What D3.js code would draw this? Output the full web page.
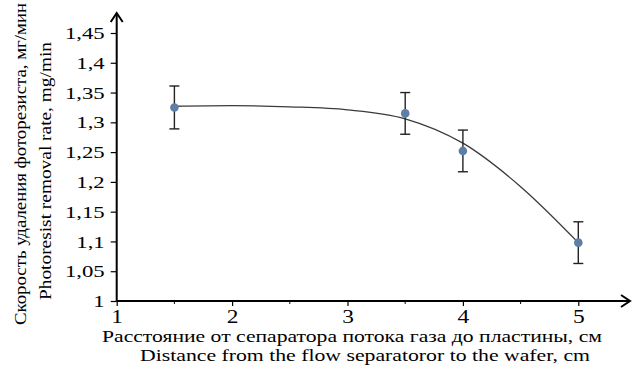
<!DOCTYPE html>
<html>
<head>
<meta charset="utf-8">
<script src="https://cdn.jsdelivr.net/npm/d3@7"></script>
<style>
  body { margin: 0; background: #fff; }
  svg { display: block; }
  svg text { font-family: "Liberation Serif", "Times New Roman", Times, serif; }
</style>
</head>
<body>
<div id="chart"></div>
<script>
// values
const xTicks = [1, 2, 3, 4, 5];
const xMinorTicks = [1.5, 2.5, 3.5, 4.5];
const yTicks = [1, 1.05, 1.1, 1.15, 1.2, 1.25, 1.3, 1.35, 1.4, 1.45];
const distance = [1.5, 3.5, 4, 5];
const rate = [1.325, 1.315, 1.252, 1.098];
const rateErr = [0.036, 0.035, 0.035, 0.035];
// trend line
const fitX = [1.5, 2, 2.5, 3, 3.5, 4, 4.5, 5];
const fitY = [1.327, 1.328, 1.326, 1.321, 1.306, 1.265, 1.192, 1.098];

const width = 632;
const height = 365;
const stretch = 1.3; // the source picture is widened horizontally

const locale = d3.formatLocale({decimal: ",", thousands: " ", grouping: [3], currency: ["", ""]});
const fmt = locale.format("~g");

const svg = d3.select("#chart")
  .append("svg")
  .attr("width", width)
  .attr("height", height);

const x = d3.scaleLinear()
  .domain([1, 5])
  .range([116.7, 578.3]);

const y = d3.scaleLinear()
  .domain([1, 1.45])
  .range([301, 33]);

const x0 = x(1), y0 = y(1);

// x axis
const gx = svg.append("g")
  .attr("transform", `translate(0,${y0})`)
  .call(d3.axisBottom(x).tickValues(xTicks).tickSize(5).tickPadding(4).tickFormat(fmt));
gx.select(".domain").remove();
gx.attr("font-size", 18).attr("font-family", null);
gx.selectAll(".tick line").attr("stroke", "#000").attr("stroke-width", 1.2);
gx.selectAll(".tick text")
  .attr("fill", "#000")
  .attr("y", 0)
  .attr("transform", `translate(0,9) scale(${stretch},1)`);

svg.append("g")
  .selectAll("line")
  .data(xMinorTicks)
  .join("line")
  .attr("x1", d => x(d)).attr("x2", d => x(d))
  .attr("y1", y0).attr("y2", y0 + 3)
  .attr("stroke", "#000");

// y axis
const gy = svg.append("g")
  .attr("transform", `translate(${x0},0)`)
  .call(d3.axisLeft(y).tickValues(yTicks).tickSize(6).tickPadding(5).tickFormat(fmt));
gy.select(".domain").remove();
gy.attr("font-size", 17.5).attr("font-family", null);
gy.selectAll(".tick line").attr("stroke", "#000").attr("stroke-width", 1.2);
gy.selectAll(".tick text")
  .attr("fill", "#000")
  .attr("x", 0)
  .attr("transform", `translate(-12,0) scale(${stretch},1)`);

// axis lines with open arrow heads
svg.append("line")
  .attr("x1", x0).attr("x2", 630)
  .attr("y1", y0).attr("y2", y0)
  .attr("stroke", "#000").attr("stroke-width", 2);
svg.append("path")
  .attr("d", `M${621},${y0 - 6}L${630},${y0}L${621},${y0 + 6}`)
  .attr("fill", "none").attr("stroke", "#000").attr("stroke-width", 2);

svg.append("line")
  .attr("x1", x0).attr("x2", x0)
  .attr("y1", y0).attr("y2", 13)
  .attr("stroke", "#000").attr("stroke-width", 2);
svg.append("path")
  .attr("d", `M${x0 - 6},${22}L${x0},${13}L${x0 + 6},${22}`)
  .attr("fill", "none").attr("stroke", "#000").attr("stroke-width", 2);

// trend line
const fit = fitX.map((d, i) => [d, fitY[i]]);
svg.append("path")
  .datum(fit)
  .attr("fill", "none")
  .attr("stroke", "#3a3a3a")
  .attr("stroke-width", 1.3)
  .attr("d", d3.line().x(d => x(d[0])).y(d => y(d[1])).curve(d3.curveMonotoneX));

// error bars
const pts = distance.map((d, i) => ({x: d, y: rate[i], e: rateErr[i]}));
const eb = svg.append("g").attr("stroke", "#222").attr("stroke-width", 1.4);
eb.selectAll(".v").data(pts).join("line")
  .attr("x1", d => x(d.x)).attr("x2", d => x(d.x))
  .attr("y1", d => y(d.y - d.e)).attr("y2", d => y(d.y + d.e));
eb.selectAll(".t").data(pts).join("line")
  .attr("x1", d => x(d.x) - 5).attr("x2", d => x(d.x) + 5)
  .attr("y1", d => y(d.y + d.e)).attr("y2", d => y(d.y + d.e));
eb.selectAll(".b").data(pts).join("line")
  .attr("x1", d => x(d.x) - 5).attr("x2", d => x(d.x) + 5)
  .attr("y1", d => y(d.y - d.e)).attr("y2", d => y(d.y - d.e));

// points
svg.append("g")
  .selectAll("circle")
  .data(pts)
  .join("circle")
  .attr("cx", d => x(d.x))
  .attr("cy", d => y(d.y))
  .attr("r", 4.3)
  .attr("fill", "#5e7ea6");

// axis titles
svg.append("text")
  .attr("x", 352).attr("y", 342)
  .attr("text-anchor", "middle")
  .attr("font-size", 17.5)
  .attr("textLength", 500).attr("lengthAdjust", "spacingAndGlyphs")
  .text("Расстояние от сепаратора потока газа до пластины, см");
svg.append("text")
  .attr("x", 365).attr("y", 361)
  .attr("text-anchor", "middle")
  .attr("font-size", 17.5)
  .attr("textLength", 450).attr("lengthAdjust", "spacingAndGlyphs")
  .text("Distance from the flow separatoror to the wafer, cm");

svg.append("text")
  .attr("transform", "translate(26,164) rotate(-90)")
  .attr("text-anchor", "middle")
  .attr("font-size", 17.5)
  .attr("textLength", 322).attr("lengthAdjust", "spacingAndGlyphs")
  .text("Скорость удаления фоторезиста, мг/мин");
svg.append("text")
  .attr("transform", "translate(51,171) rotate(-90)")
  .attr("text-anchor", "middle")
  .attr("font-size", 17.5)
  .attr("textLength", 258).attr("lengthAdjust", "spacingAndGlyphs")
  .text("Photoresist removal rate, mg/min");
</script>
</body>
</html>
